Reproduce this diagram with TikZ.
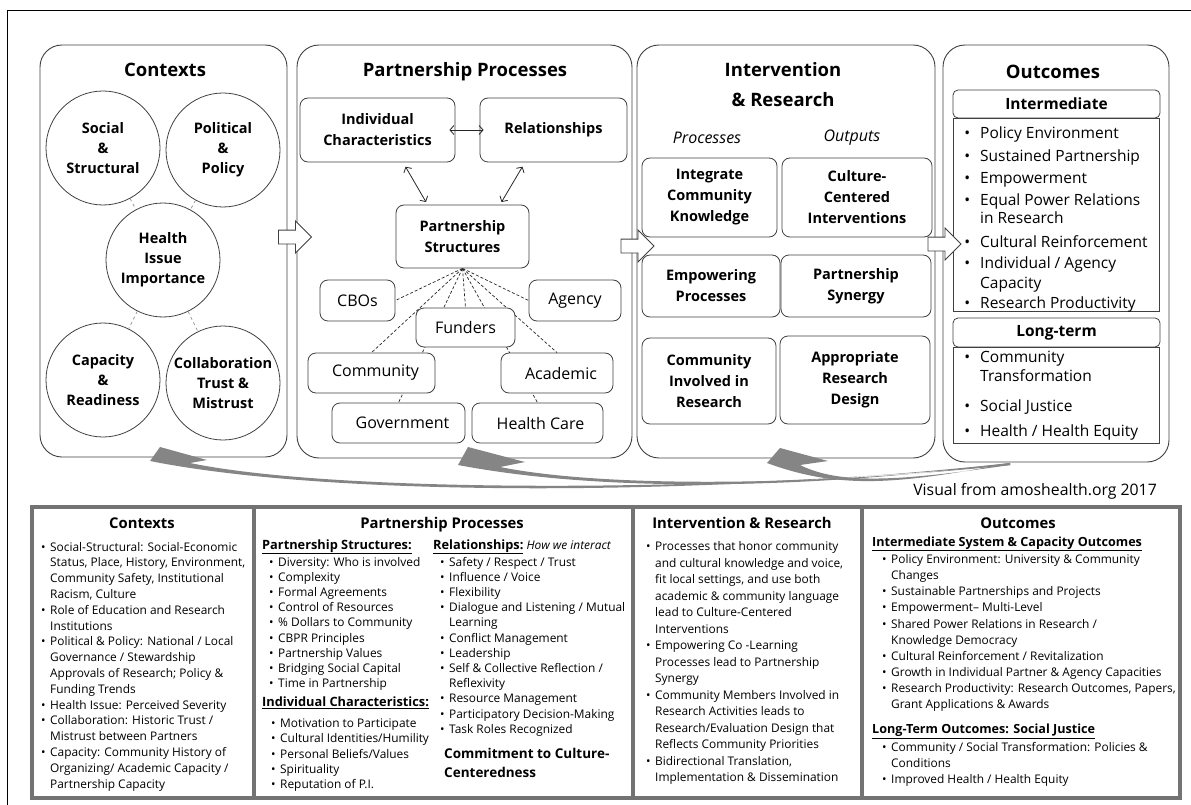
\documentclass[tikz,border=0pt]{standalone}
\usepackage{fontspec}
\setmainfont{Open Sans}
\usetikzlibrary{arrows.meta,shapes.arrows,backgrounds}
\newcommand\bul[1][4.5pt]{\makebox[0pt][r]{\textbullet\hspace{#1}}}
\newcommand\fs[2]{\fontsize{#1}{#2}\selectfont}
\begin{document}
\begin{tikzpicture}[x=1pt,y=-1pt,
  bigbox/.style={draw=black!75, line width=0.9pt, rounded corners=22pt, inner sep=0pt},
  title/.style={inner sep=0pt, font=\fs{18.5}{22}\bfseries},
  circ/.style={circle, draw=black!75, line width=0.8pt, minimum size=114pt, inner sep=0pt, align=center, font=\fs{14.5}{20}\bfseries},
  rbox/.style={draw=black!75, line width=0.8pt, rounded corners=8pt, fill=white, inner sep=0pt, align=center, font=\fs{14.5}{21}\bfseries},
  pbox/.style={rbox, font=\fs{16}{20}},
  sqbox/.style={draw=black!75, line width=0.8pt, inner sep=0pt},
  ctxlink/.style={draw=black!40, dashed, line width=0.8pt},
  fan/.style={draw=black!85, dash pattern=on 3pt off 2pt, line width=0.7pt},
  twoway/.style={arrows={Straight Barb[length=4pt,width=9pt]-Straight Barb[length=4pt,width=9pt]}, line width=0.8pt, draw=black!85},
  blockarrow/.style={single arrow, draw=black!75, fill=white, line width=0.8pt, minimum height=33pt, text height=6.5pt, text depth=6.5pt, text width=0pt, single arrow head extend=9pt, inner sep=0pt},
  fb/.style={fill=black!48},
  tblline/.style={draw=black!55, line width=4pt},
  coltitle/.style={inner sep=0pt, font=\fs{14.8}{18}\bfseries},
  listtext/.style={anchor=base west, inner sep=0pt}
]
\useasboundingbox (0,0) rectangle (1191,805);
\draw[line width=0.9pt] (1191,10) -- (7,10) -- (7,805);

% ---------- big boxes ----------
\node[bigbox, minimum width=247pt, minimum height=412pt] (ctx) at (163.5,251) {};
\node[bigbox, minimum width=335pt, minimum height=413pt] (pp) at (464.5,251.5) {};
\node[bigbox, minimum width=298pt, minimum height=413pt] (ir) at (786,251.5) {};
\node[bigbox, minimum width=226pt, minimum height=417pt] (out) at (1056,253.5) {};

\node[title] (ctxt) at (165,70) {Contexts};
\node[title] (ppt) at (465,72) {Partnership Processes};
\node[title, align=center] (irt) at (783,85) {Intervention\\[8pt]\& Research};
\node[title] (outt) at (1053,72) {Outcomes};

% ---------- contexts ----------
\node[circ] (soc) at (103,148) {Social\\\&\\Structural};
\node[circ] (pol) at (223,150) {Political\\\&\\Policy};
\node[circ] (hea) at (163,260) {Health\\Issue\\Importance};
\node[circ] (cap) at (103,380) {Capacity\\\&\\Readiness};
\node[circ] (col) at (223,383) {Collaboration\\Trust \&\\Mistrust};
\draw[ctxlink] (soc) -- (hea);
\draw[ctxlink] (pol) -- (hea);
\draw[ctxlink] (hea) -- (cap);
\draw[ctxlink] (hea) -- (col);

% ---------- partnership processes ----------
\node[rbox, minimum width=155pt, minimum height=64pt] (indiv) at (377.5,130) {Individual\\Characteristics};
\node[rbox, minimum width=147pt, minimum height=64pt] (rel) at (553.5,130) {Relationships};
\node[rbox, minimum width=133pt, minimum height=63pt] (ps) at (462.5,236.5) {Partnership\\Structures};
\node[pbox, minimum width=75pt, minimum height=41pt] (cbos) at (357.5,300.5) {CBOs};
\node[pbox, minimum width=92pt, minimum height=41pt] (agency) at (575,300.5) {Agency};
\node[pbox, minimum width=99pt, minimum height=39pt] (funders) at (465.5,327.5) {Funders};
\node[pbox, minimum width=127pt, minimum height=40pt] (community) at (371.5,373) {\hspace*{8pt}Community};
\node[pbox, minimum width=112pt, minimum height=40pt] (academic) at (557,373) {\hspace*{8pt}Academic};
\node[pbox, minimum width=133pt, minimum height=40pt] (government) at (398.5,423) {\hspace*{8pt}Government};
\node[pbox, minimum width=131pt, minimum height=40pt] (healthcare) at (537.5,423) {\hspace*{6pt}Health Care};

\draw[twoway, shorten <=-6pt, shorten >=-4pt] (indiv.east) -- (rel.west);
\draw[twoway, shorten <=5pt, shorten >=3pt] ([xshift=25.5pt]indiv.south) -- ([xshift=-35pt]ps.north);
\draw[twoway, shorten <=5pt, shorten >=3pt] ([xshift=-28.5pt]rel.south) -- ([xshift=37.5pt]ps.north);

\begin{scope}[on background layer]
\foreach \t in {cbos.east, agency.west, funders.north, community.north, academic.north, government.north, healthcare.north}
  \draw[fan] (ps.south) -- (\t);
\end{scope}

% ---------- intervention & research ----------
\node[inner sep=0pt, font=\fs{16}{20}\itshape] (proc) at (707,138) {Processes};
\node[inner sep=0pt, font=\fs{16}{20}\itshape] (outp) at (852,138) {Outputs};
\node[rbox, minimum width=135pt, minimum height=79pt] (integ) at (709.5,197.5) {Integrate\\Community\\Knowledge};
\node[rbox, minimum width=150pt, minimum height=79pt] (cult) at (857,197.5) {Culture-\\Centered\\Interventions};
\node[rbox, minimum width=138pt, minimum height=62pt] (empw) at (711,286) {Empowering\\Processes};
\node[rbox, minimum width=150pt, minimum height=62pt] (syn) at (856,286) {Partnership\\Synergy};
\node[rbox, minimum width=134pt, minimum height=86pt] (invol) at (709,381) {Community\\Involved in\\Research};
\node[rbox, minimum width=150pt, minimum height=88pt] (appr) at (855,380) {Appropriate\\Research\\Design};

% ---------- outcomes ----------
\node[rbox, rounded corners=5pt, minimum width=207pt, minimum height=28pt, font=\fs{15.5}{18}\bfseries] (interm) at (1056.5,104) {Intermediate};
\node[sqbox, minimum width=206pt, minimum height=193pt] (intlist) at (1056,214.5) {};
\node[rbox, rounded corners=5pt, minimum width=207pt, minimum height=29pt, font=\fs{15.5}{18}\bfseries] (lt) at (1056.5,332.5) {Long-term};
\node[sqbox, minimum width=206pt, minimum height=96pt] (ltlist) at (1056,395) {};
\node[listtext, font=\fs{15.5}{20}] (inttext) at (980,139) {\parbox[t]{180pt}{\raggedright
\bul[10pt]Policy Environment\\[3pt]
\bul[10pt]Sustained Partnership\\[2pt]
\bul[10pt]Empowerment\\[2pt]
\bul[10pt]Equal Power Relations\\[-2pt]
in Research\\[4pt]
\bul[10pt]Cultural Reinforcement\\[1pt]
\bul[10pt]Individual / Agency\\
Capacity\\
\bul[10pt]Research Productivity}};
\node[listtext, font=\fs{15.5}{19}] (lttext) at (980,362) {\parbox[t]{180pt}{\raggedright
\bul[10pt]Community\\
Transformation\\[11pt]
\bul[10pt]Social Justice\\[6pt]
\bul[10pt]Health / Health Equity}};

% ---------- block arrows ----------
\node[blockarrow] (a1) at (291.5,237) {};
\node[blockarrow] (a2) at (634,246) {};
\node[blockarrow] (a3) at (941,244) {};

% ---------- feedback arrows ----------
\coordinate (fbsrc) at (1010,464);
\fill[fb] (160,447) -- (150,461) .. controls (330,497) and (700,497) .. ([yshift=1pt]fbsrc) -- ([yshift=-1pt]fbsrc) .. controls (700,494) and (330,492) .. (190,463) -- (207,460) -- cycle;
\fill[fb] (468,447) -- (458,465) .. controls (600,492) and (800,490) .. ([yshift=1pt]fbsrc) -- ([yshift=-1pt]fbsrc) .. controls (800,487) and (600,487) .. (500,467) -- (525,462) -- cycle;
\fill[fb] (780,448) -- (767,463) .. controls (840,490) and (900,484) .. ([yshift=1pt]fbsrc) -- ([yshift=-1pt]fbsrc) .. controls (900,481) and (840,485) .. (800,465) -- (828,461) -- cycle;

\node[anchor=east, inner sep=0pt, font=\fs{15.8}{18}] (credit) at (1157,491) {Visual from amoshealth.org 2017};

% ---------- bottom table ----------
\node[tblline, minimum width=1148pt, minimum height=291pt, inner sep=0pt] (tbl) at (606,652.5) {};
\draw[tblline] (254,507) -- (254,798);
\draw[tblline] (633,507) -- (633,798);
\draw[tblline] (862,507) -- (862,798);

\node[coltitle] (bctx) at (142,523) {Contexts};
\node[coltitle] (bpp) at (442,525) {Partnership Processes};
\node[coltitle] (bir) at (742,523) {Intervention \& Research};
\node[coltitle] (bout) at (1018,523) {Outcomes};

\node[listtext, font=\fs{11.9}{15.8}] (ctxlist) at (50,551) {\parbox[t]{205pt}{\raggedright
\bul Social-Structural: Social-Economic\\
Status, Place, History, Environment,\\
Community Safety, Institutional\\
Racism, Culture\\
\bul Role of Education and Research\\
Institutions\\
\bul Political \& Policy: National / Local\\
Governance / Stewardship\\
Approvals of Research; Policy \&\\
Funding Trends\\
\bul Health Issue: Perceived Severity\\
\bul Collaboration: Historic Trust /\\
Mistrust between Partners\\
\bul Capacity: Community History of\\
Organizing/ Academic Capacity /\\
Partnership Capacity}};

\node[listtext, font=\fs{11.9}{15.2}] (pslist) at (262,549) {\parbox[t]{180pt}{\raggedright
{\fs{12.8}{15.2}\bfseries\underline{Partnership Structures:}}\\[1.8pt]
\hspace*{16pt}\bul Diversity: Who is involved\\
\hspace*{16pt}\bul Complexity\\
\hspace*{16pt}\bul Formal Agreements\\
\hspace*{16pt}\bul Control of Resources\\
\hspace*{16pt}\bul \% Dollars to Community\\
\hspace*{16pt}\bul CBPR Principles\\
\hspace*{16pt}\bul Partnership Values\\
\hspace*{16pt}\bul Bridging Social Capital\\
\hspace*{16pt}\bul Time in Partnership\\[3.8pt]
{\fs{12.8}{15.2}\bfseries\underline{Individual Characteristics:}}\\[5.8pt]
\hspace*{18pt}\bul Motivation to Participate\\
\hspace*{18pt}\bul Cultural Identities/Humility\\
\hspace*{18pt}\bul Personal Beliefs/Values\\
\hspace*{18pt}\bul Spirituality\\
\hspace*{18pt}\bul Reputation of P.I.}};

\node[listtext, font=\fs{11.9}{15.2}] (rellist) at (433,549) {\parbox[t]{200pt}{\raggedright
{\fs{12.8}{15.2}\bfseries\underline{Relationships:}} {\itshape How we interact}\\[1.8pt]
\hspace*{16pt}\bul Safety / Respect / Trust\\
\hspace*{16pt}\bul Influence / Voice\\
\hspace*{16pt}\bul Flexibility\\
\hspace*{16pt}\bul Dialogue and Listening / Mutual\\
\hspace*{16pt}Learning\\
\hspace*{16pt}\bul Conflict Management\\
\hspace*{16pt}\bul Leadership\\
\hspace*{16pt}\bul Self \& Collective Reflection /\\
\hspace*{16pt}Reflexivity\\
\hspace*{16pt}\bul Resource Management\\
\hspace*{16pt}\bul Participatory Decision-Making\\
\hspace*{16pt}\bul Task Roles Recognized\\[9.8pt]
\hspace*{11pt}{\fs{13.5}{15.2}\bfseries Commitment to Culture-}\\[3.8pt]
\hspace*{11pt}{\fs{13.5}{15.2}\bfseries Centeredness}}};

\node[listtext, font=\fs{11.9}{16.5}] (irlist) at (655,550.5) {\parbox[t]{210pt}{\raggedright
\bul Processes that honor community\\
and cultural knowledge and voice,\\
fit local settings, and use both\\
academic \& community language\\
lead to Culture-Centered\\
Interventions\\
\bul Empowering Co -Learning\\
Processes lead to Partnership\\
Synergy\\
\bul Community Members Involved in\\
Research Activities leads to\\
Research/Evaluation Design that\\
Reflects Community Priorities\\
\bul Bidirectional Translation,\\
Implementation \& Dissemination}};

\node[listtext, font=\fs{11.9}{16.1}] (outlist) at (872,546) {\parbox[t]{320pt}{\raggedright
{\fs{12.6}{16.1}\bfseries\underline{Intermediate System \& Capacity Outcomes}}\\[1.5pt]
\hspace*{19pt}\bul Policy Environment: University \& Community\\
\hspace*{19pt}Changes\\
\hspace*{19pt}\bul Sustainable Partnerships and Projects\\
\hspace*{19pt}\bul Empowerment– Multi-Level\\
\hspace*{19pt}\bul Shared Power Relations in Research /\\
\hspace*{19pt}Knowledge Democracy\\
\hspace*{19pt}\bul Cultural Reinforcement / Revitalization\\
\hspace*{19pt}\bul Growth in Individual Partner \& Agency Capacities\\
\hspace*{19pt}\bul Research Productivity: Research Outcomes, Papers,\\
\hspace*{19pt}Grant Applications \& Awards\\[8.9pt]
{\fs{12.6}{16.1}\bfseries\underline{Long-Term Outcomes: Social Justice}}\\[2pt]
\hspace*{19pt}\bul Community / Social Transformation: Policies \&\\
\hspace*{19pt}Conditions\\
\hspace*{19pt}\bul Improved Health / Health Equity}};
\end{tikzpicture}
\end{document}
